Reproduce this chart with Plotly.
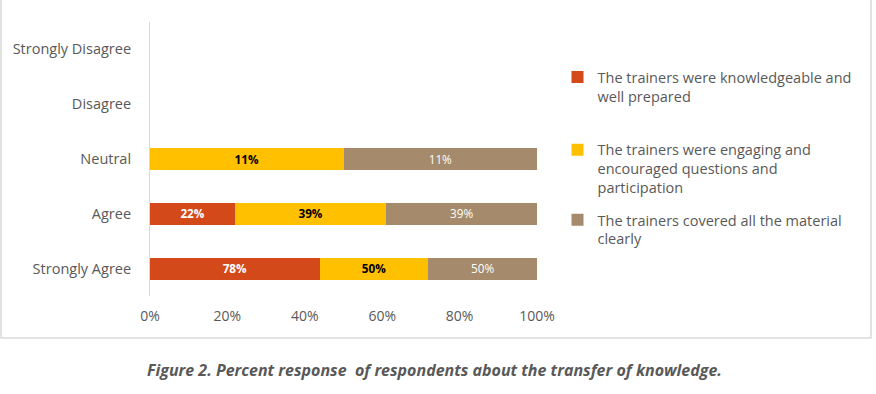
import plotly.graph_objects as go

categories = ["Strongly Agree", "Agree", "Neutral", "Disagree", "Strongly Disagree"]
series_names = [
    "The trainers were knowledgeable and<br>well prepared",
    "The trainers were engaging and<br>encouraged questions and<br>participation",
    "The trainers covered all the material<br>clearly",
]
knowledgeable = [78, 22, 0, 0, 0]
engaging = [50, 39, 11, 0, 0]
covered = [50, 39, 11, 0, 0]
tick_vals = [0, 20, 40, 60, 80, 100]
tick_text = ["0%", "20%", "40%", "60%", "80%", "100%"]

colors = ["#D4491A", "#FFC000", "#A58B6B"]
text_fonts = [
    dict(color="white", size=14, family="Open Sans", weight="bold"),
    dict(color="black", size=14, family="Open Sans", weight="bold"),
    dict(color="white", size=14, family="Open Sans"),
]
legend_ids = ["legend", "legend2", "legend3"]
legend_y = [0.857, 0.592, 0.336]

fig = go.Figure()
for i, (name, vals) in enumerate(zip(series_names, [knowledgeable, engaging, covered])):
    fig.add_trace(go.Bar(
        y=categories, x=vals, name=name, orientation="h",
        marker=dict(color=colors[i], line=dict(width=0)),
        text=[f"{v}%" if v else "" for v in vals],
        textposition="inside", insidetextanchor="middle",
        textfont=text_fonts[i], legend=legend_ids[i], showlegend=True,
        hoverinfo="x+y+name",
    ))

legend_common = dict(
    xanchor="left", yanchor="top", x=1.053,
    font=dict(size=14.5, color="#595959", family="Open Sans"),
    valign="top", itemwidth=30, bgcolor="rgba(0,0,0,0)",
)

fig.update_layout(
    showlegend=True,
    barmode="stack", barnorm="percent", bargap=0.6,
    width=876, height=394,
    margin=dict(l=150, r=339, t=22, b=98, autoexpand=False),
    plot_bgcolor="white", paper_bgcolor="white",
    font=dict(family="Open Sans", size=14, color="#595959"),
    uniformtext=dict(minsize=8, mode="show"),
    legend=dict(y=legend_y[0], **legend_common),
    legend2=dict(y=legend_y[1], **legend_common),
    legend3=dict(y=legend_y[2], **legend_common),
    xaxis=dict(range=[0, 100], tickvals=tick_vals, ticktext=tick_text,
               showgrid=False, zeroline=False, showline=False, ticks="",
               ticklabelstandoff=10, automargin=False,
               tickfont=dict(size=14, color="#595959")),
    yaxis=dict(showline=True, linecolor="#D9D9D9", linewidth=1, ticks="",
               showgrid=False, ticklabelstandoff=15, automargin=False,
               tickfont=dict(size=14.5, color="#595959")),
    shapes=[dict(type="rect", xref="paper", yref="paper",
                 x0=-0.385, x1=1.863, y0=-0.153, y1=1.2,
                 line=dict(color="#D9D9D9", width=1.5))],
    annotations=[dict(
        text="<b><i>Figure 2. Percent response  of respondents about the transfer of knowledge.</i></b>",
        xref="paper", yref="paper", x=0.734, y=-0.27, xanchor="center", yanchor="middle",
        showarrow=False, font=dict(size=16, color="#595959", family="Open Sans"),
    )],
)

fig.write_html("out.html", config={"displayModeBar": False},
               post_script="document.body.style.margin='0';document.body.style.overflow='hidden';")
